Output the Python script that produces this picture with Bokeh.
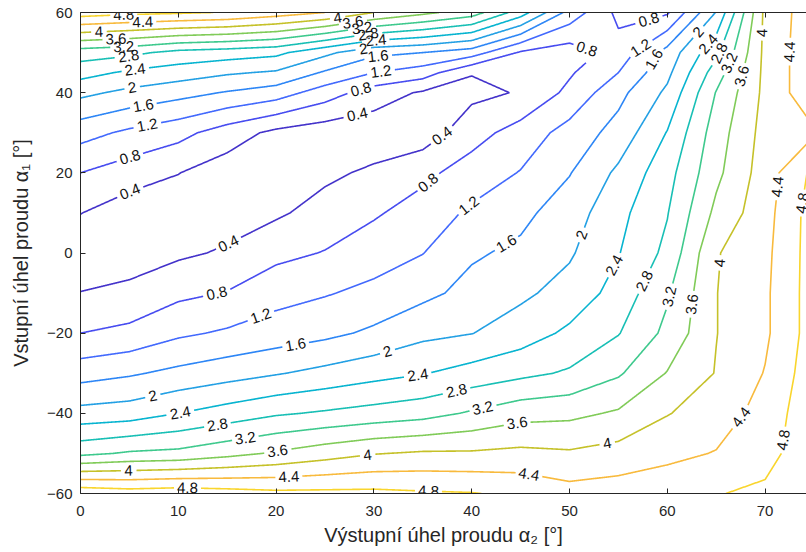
import math
import numpy as np
import contourpy
from bokeh.plotting import figure
from bokeh.models import Range1d, LinearAxis, FixedTicker
from bokeh.embed import file_html
from bokeh.resources import INLINE
from bokeh.core.properties import value

# ---------------- data ----------------
alpha2 = [0, 5, 10, 15, 20, 25, 30, 35, 40, 45, 50, 55, 60, 65, 70, 75]      # x, deg
alpha1 = [60, 50, 45, 40, 30, 20, 10, 0, -10, -20, -30, -40, -50, -60]      # y, deg

z_60  = [5.0, 4.9, 4.85, 4.78, 4.6, 4.4, 4.0, 3.7, 3.4, 2.6, 1.45, 0.7, 0.75, 2.02, 4.1, 4.65]
z_50  = [3.0, 2.9, 2.68, 2.6, 2.5, 2.1, 1.7, 1.6, 1.4, 0.75, 0.6, 0.95, 1.75, 2.7, 4.1, 4.7]
z_45  = [2.55, 2.33, 2.2, 2.05, 1.95, 1.55, 1.2, 1.0, 0.42, 0.6, 0.75, 1.2, 1.9, 3.0, 4.1, 4.7]
z_40  = [2.1, 1.9, 1.74, 1.57, 1.4, 1.0, 0.6, 0.35, 0.3, 0.43, 0.9, 1.48, 2.08, 3.22, 4.1, 4.7]
z_30  = [1.35, 1.12, 0.93, 0.6, 0.3, 0.17, 0.16, 0.18, 0.64, 0.97, 1.35, 1.75, 2.42, 3.4, 4.15, 4.35]
z_20  = [0.8, 0.6, 0.41, 0.2, 0.16, 0.32, 0.47, 0.7, 0.98, 1.22, 1.58, 2.08, 2.65, 3.5, 4.2, 4.9]
z_10  = [0.41, 0.18, 0.17, 0.22, 0.34, 0.55, 0.75, 0.98, 1.27, 1.5, 1.8, 2.28, 2.78, 3.7, 4.25, 5.0]
z_0   = [0.15, 0.2, 0.33, 0.45, 0.69, 0.82, 1.02, 1.19, 1.55, 1.68, 1.95, 2.38, 2.9, 3.97, 4.3, 5.0]
z_m10 = [0.41, 0.5, 0.71, 0.82, 1.06, 1.17, 1.3, 1.5, 1.72, 1.92, 2.15, 2.55, 3.15, 3.99, 4.33, 5.0]
z_m20 = [0.8, 0.9, 1.13, 1.255, 1.38, 1.5, 1.675, 1.9, 1.99, 2.2, 2.48, 2.78, 3.3, 3.99, 4.33, 5.0]
z_m30 = [1.43, 1.55, 1.70, 1.835, 1.97, 2.115, 2.26, 2.38, 2.55, 2.7, 2.85, 3.15, 3.62, 4.02, 4.42, 5.05]
z_m40 = [2.14, 2.2, 2.4, 2.575, 2.75, 2.85, 2.95, 3.05, 3.25, 3.45, 3.5, 3.65, 3.98, 4.2, 4.55, 5.1]
z_m50 = [3.1, 3.25, 3.3, 3.475, 3.65, 3.825, 3.98, 4.05, 4.05, 4.1, 4.05, 4.15, 4.3, 4.42, 4.65, 5.1]
z_m60 = [5.1, 5.0, 5.05, 4.975, 4.9, 4.9, 4.9, 4.85, 4.82, 4.72, 4.55, 4.6, 4.65, 4.78, 4.88, 5.3]

levels = [0.4, 0.8, 1.2, 1.6, 2.0, 2.4, 2.8, 3.2, 3.6, 4.0, 4.4, 4.8]

x_ticks = [0, 10, 20, 30, 40, 50, 60, 70]
y_ticks = [-60, -40, -20, 0, 20, 40, 60]

# ---------------- layout / style ----------------
W, H = 806, 552
B_LEFT, B_RIGHT, B_TOP, B_BOTTOM = 80, 0, 12, 59
FRAME_W = W - B_LEFT - B_RIGHT
FRAME_H = H - B_TOP - B_BOTTOM
X0, Y0, Y1 = 0.0, -60.0, 60.0
SX = 9.78                                  # px per degree (x)
X1 = X0 + FRAME_W / SX
SY = FRAME_H / (Y1 - Y0)

FONT = "Liberation Sans"
AX_COLOR = "#262626"
LABEL_PX = 15

# label anchors (placement hints, snapped onto the computed contour lines)
label_hints = [
    (4.8, 4.4, 59.3), (4.4, 6.4, 57.3), (4.0, 1.9, 54.8), (3.6, 3.6, 53.0), (3.2, 4.4, 51.3),
    (2.8, 4.9, 49.3), (2.4, 5.6, 45.1), (2.0, 5.3, 41.1), (1.6, 6.4, 36.9), (1.2, 6.8, 31.9),
    (0.8, 5.1, 23.9), (0.4, 5.1, 15.2),
    (4.0, 26.3, 58.5), (3.6, 27.9, 57.3), (3.2, 28.8, 56.0), (2.8, 29.4, 54.8), (2.4, 30.2, 53.5),
    (2.0, 28.9, 51.3), (1.6, 30.4, 49.3), (1.2, 30.7, 45.6), (0.8, 28.6, 41.3), (0.4, 28.3, 34.9),
    (0.4, 15.1, 2.5), (0.4, 37.1, 28.9), (0.8, 14.0, -10.5), (0.8, 35.3, 18.2),
    (1.2, 18.6, -16.7), (1.2, 39.9, 11.2), (1.6, 22.0, -22.9), (1.6, 43.8, 1.5),
    (2.0, 7.4, -35.9), (2.0, 31.4, -24.9), (2.0, 51.3, 4.5),
    (2.4, 10.2, -40.1), (2.4, 34.5, -30.9), (2.4, 54.9, -3.5),
    (2.8, 14.0, -43.3), (2.8, 38.5, -34.9), (2.8, 57.8, -7.2),
    (3.2, 16.9, -46.8), (3.2, 41.1, -38.6), (3.2, 60.3, -11.0),
    (3.6, 20.2, -50.0), (3.6, 44.7, -43.3), (3.6, 62.6, -12.9),
    (4.0, 4.9, -54.8), (4.0, 29.4, -50.8), (4.0, 53.9, -48.6), (4.0, 65.2, -2.5),
    (4.4, 21.3, -56.3), (4.4, 45.8, -56.3), (4.4, 68.2, -42.3), (4.4, 71.6, 16.4),
    (4.8, 10.9, -59.5), (4.8, 35.6, -59.5), (4.8, 72.3, -46.8), (4.8, 73.9, 12.5),
    (0.8, 51.8, 51.3), (0.8, 58.3, 56.8), (1.2, 57.4, 50.6), (1.6, 58.5, 48.6),
    (2.0, 63.0, 55.5), (2.4, 63.8, 53.0), (2.8, 64.7, 50.6), (3.2, 66.2, 47.6),
    (3.6, 67.5, 44.3), (4.0, 70.3, 54.8), (4.4, 72.7, 50.1),
]

PARULA = [
    (0.2422, 0.1504, 0.6603), (0.2504, 0.1650, 0.7076), (0.2578, 0.1818, 0.7511), (0.2647, 0.1978, 0.7952),
    (0.2706, 0.2147, 0.8364), (0.2751, 0.2342, 0.8710), (0.2783, 0.2559, 0.8991), (0.2803, 0.2782, 0.9221),
    (0.2813, 0.3006, 0.9414), (0.2810, 0.3228, 0.9579), (0.2795, 0.3447, 0.9717), (0.2760, 0.3667, 0.9829),
    (0.2699, 0.3892, 0.9906), (0.2602, 0.4123, 0.9952), (0.2440, 0.4358, 0.9988), (0.2206, 0.4603, 0.9973),
    (0.1963, 0.4847, 0.9892), (0.1834, 0.5074, 0.9798), (0.1786, 0.5289, 0.9682), (0.1764, 0.5499, 0.9520),
    (0.1687, 0.5703, 0.9359), (0.1540, 0.5902, 0.9218), (0.1460, 0.6091, 0.9079), (0.1380, 0.6276, 0.8973),
    (0.1248, 0.6459, 0.8883), (0.1113, 0.6635, 0.8763), (0.0952, 0.6798, 0.8598), (0.0689, 0.6948, 0.8394),
    (0.0297, 0.7082, 0.8163), (0.0036, 0.7203, 0.7917), (0.0067, 0.7312, 0.7660), (0.0433, 0.7411, 0.7394),
    (0.0964, 0.7500, 0.7120), (0.1408, 0.7584, 0.6842), (0.1717, 0.7670, 0.6554), (0.1938, 0.7758, 0.6251),
    (0.2161, 0.7843, 0.5923), (0.2470, 0.7918, 0.5567), (0.2906, 0.7973, 0.5188), (0.3406, 0.8008, 0.4789),
    (0.3909, 0.8029, 0.4354), (0.4456, 0.8024, 0.3909), (0.5044, 0.7993, 0.3480), (0.5616, 0.7942, 0.3045),
    (0.6174, 0.7876, 0.2612), (0.6720, 0.7793, 0.2227), (0.7242, 0.7698, 0.1910), (0.7738, 0.7598, 0.1646),
    (0.8203, 0.7498, 0.1535), (0.8634, 0.7406, 0.1596), (0.9035, 0.7330, 0.1774), (0.9393, 0.7288, 0.2100),
    (0.9728, 0.7298, 0.2394), (0.9956, 0.7434, 0.2371), (0.9970, 0.7659, 0.2199), (0.9952, 0.7893, 0.2028),
    (0.9892, 0.8136, 0.1885), (0.9786, 0.8386, 0.1766), (0.9676, 0.8639, 0.1643), (0.9610, 0.8890, 0.1537),
    (0.9597, 0.9135, 0.1423), (0.9628, 0.9373, 0.1265), (0.9691, 0.9606, 0.1064), (0.9769, 0.9839, 0.0805),
]

# ---------------- contour computation ----------------
rows = {60: z_60, 50: z_50, 45: z_45, 40: z_40, 30: z_30, 20: z_20, 10: z_10, 0: z_0,
        -10: z_m10, -20: z_m20, -30: z_m30, -40: z_m40, -50: z_m50, -60: z_m60}
yy = np.array(sorted(alpha1), dtype=float)
xx = np.array(alpha2, dtype=float)
Z = np.array([rows[int(v)] for v in yy], dtype=float)
zmin, zmax = float(Z.min()), float(Z.max())


def level_color(lev):
    t = (lev - zmin) / (zmax - zmin)
    i = min(63, max(0, int(round(t * 63))))
    r, g, b = PARULA[i]
    return "#%02x%02x%02x" % (int(r * 255), int(g * 255), int(b * 255))


def fmt(lev):
    return ("%g" % lev)


def densify(pts):
    out = [pts[0]]
    for a, b in zip(pts[:-1], pts[1:]):
        d = math.hypot((b[0] - a[0]) * SX, (b[1] - a[1]) * SY)
        n = max(1, int(d / 0.7))
        for k in range(1, n + 1):
            t = k / n
            out.append((a[0] + (b[0] - a[0]) * t, a[1] + (b[1] - a[1]) * t))
    return np.array(out)


def text_width(s):
    w = 0.0
    for ch in s:
        w += 0.278 if ch == "." else 0.556
    return w * LABEL_PX


gen = contourpy.contour_generator(xx, yy, Z)

line_xs, line_ys, line_cols = [], [], []
lab_x, lab_y, lab_t, lab_a = [], [], [], []

for lev in levels:
    raw = gen.lines(lev)
    dense = [densify(np.asarray(l)) for l in raw if len(l) > 1]
    hints = [(hx, hy) for (hl, hx, hy) in label_hints if abs(hl - lev) < 1e-9]
    centers = []
    for hx, hy in hints:
        best = None
        for li, d in enumerate(dense):
            dist = np.hypot((d[:, 0] - hx) * SX, (d[:, 1] - hy) * SY)
            k = int(np.argmin(dist))
            if best is None or dist[k] < best[0]:
                best = (dist[k], li, k)
        if best is None:
            continue
        _, li, k = best
        d = dense[li]
        a = d[max(0, k - 8)]
        b = d[min(len(d) - 1, k + 8)]
        ang = math.atan2((b[1] - a[1]) * SY, (b[0] - a[0]) * SX)
        if ang > math.pi / 2:
            ang -= math.pi
        if ang < -math.pi / 2:
            ang += math.pi
        cx, cy = d[k]
        s = fmt(lev)
        r = text_width(s) / 2 + 3
        centers.append((cx, cy, r))
        lab_x.append(cx); lab_y.append(cy); lab_t.append(s); lab_a.append(ang)
    col = level_color(lev)
    for d in dense:
        vis = np.ones(len(d), dtype=bool)
        for cx, cy, r in centers:
            vis &= np.hypot((d[:, 0] - cx) * SX, (d[:, 1] - cy) * SY) > r
        start = None
        for i in range(len(d) + 1):
            if i < len(d) and vis[i]:
                if start is None:
                    start = i
            else:
                if start is not None and i - start >= 2:
                    line_xs.append(d[start:i, 0].tolist())
                    line_ys.append(d[start:i, 1].tolist())
                    line_cols.append(col)
                start = None

# ---------------- figure ----------------
p = figure(width=W, height=H, x_range=Range1d(X0, X1), y_range=Range1d(Y0, Y1),
           output_backend="svg", toolbar_location=None,
           min_border_left=B_LEFT, min_border_right=B_RIGHT,
           min_border_top=B_TOP, min_border_bottom=B_BOTTOM)
p.grid.visible = False
p.outline_line_color = None
p.background_fill_color = "white"
p.border_fill_color = "white"

p.multi_line(xs=line_xs, ys=line_ys, line_color=line_cols, line_width=1.6)
p.text(x=lab_x, y=lab_y, text=lab_t, angle=lab_a, angle_units="rad",
       text_font=value(FONT), text_font_size="%dpx" % LABEL_PX, text_color="#111111",
       text_align="center", text_baseline="middle")

p.xaxis.ticker = FixedTicker(ticks=x_ticks)
p.yaxis.ticker = FixedTicker(ticks=y_ticks)
p.xaxis.axis_label = "Výstupní úhel proudu α₂ [°]"
p.yaxis.axis_label = "Vstupní úhel proudu α₁ [°]"
for ax in (p.xaxis[0], p.yaxis[0]):
    ax.major_tick_in = 5
    ax.major_tick_out = 0
    ax.minor_tick_line_color = None
    ax.axis_line_color = AX_COLOR
    ax.major_tick_line_color = AX_COLOR
    ax.major_label_text_color = AX_COLOR
    ax.major_label_text_font = FONT
    ax.major_label_text_font_size = "15px"
    ax.axis_label_text_font = FONT
    ax.axis_label_text_font_size = "20px"
    ax.axis_label_text_font_style = "normal"
    ax.axis_label_text_color = AX_COLOR
p.xaxis.major_label_standoff = 12
p.xaxis.axis_label_standoff = 5
p.yaxis.major_label_standoff = 8
p.yaxis.axis_label_standoff = 12

top = LinearAxis(ticker=FixedTicker(ticks=x_ticks))
top.major_tick_in = 5
top.major_tick_out = 0
top.minor_tick_line_color = None
top.axis_line_color = AX_COLOR
top.major_tick_line_color = AX_COLOR
top.major_label_text_color = None
top.major_label_text_font_size = "1px"
top.major_label_standoff = 0
p.add_layout(top, "above")

open("out.html", "w").write(file_html(p, INLINE))
